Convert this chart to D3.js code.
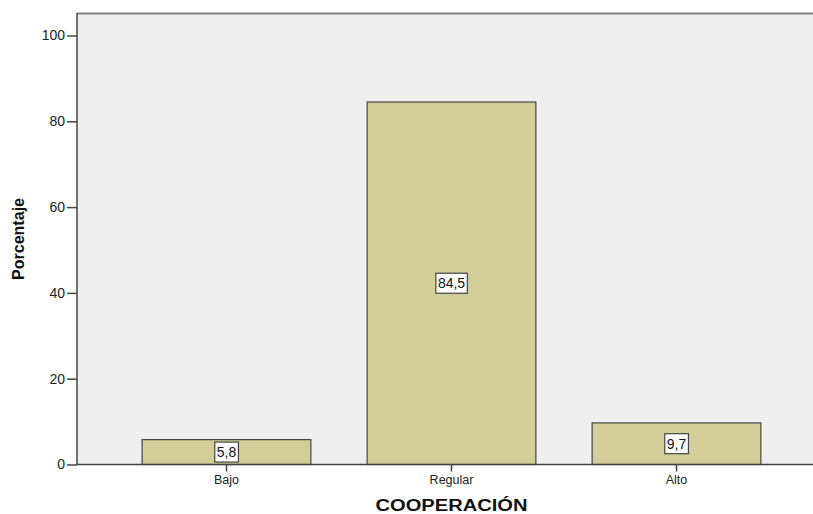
<!DOCTYPE html>
<html>
<head>
<meta charset="utf-8">
<script src="https://cdn.jsdelivr.net/npm/d3@7"></script>
<style>
	body { margin: 0; background: #fff; }
	svg { display: block; font-family: "Liberation Sans", Arial, sans-serif; }
</style>
</head>
<body>
<div id="chart"></div>
<script>
// data
var categories = ["Bajo", "Regular", "Alto"];
var values = [5.8, 84.5, 9.7];
var valueLabels = ["5,8", "84,5", "9,7"];
var yTicks = [0, 20, 40, 60, 80, 100];

var width = 813, height = 514;
var margin = {top: 13, right: -13, bottom: 49.5, left: 77};
var innerW = width - margin.left - margin.right;
var innerH = height - margin.top - margin.bottom;

var svg = d3.select("#chart").append("svg")
	.attr("width", width)
	.attr("height", height);

var g = svg.append("g")
	.attr("transform", "translate(" + margin.left + "," + margin.top + ")");

// scales
var x = d3.scaleBand()
	.domain(categories)
	.range([37, innerW - 37])
	.paddingInner(0.25)
	.paddingOuter(0.125);

var y = d3.scaleLinear()
	.domain([0, 100])
	.range([innerH, 22.5]);

// plot background
g.append("rect")
	.attr("x", 0)
	.attr("y", 0)
	.attr("width", innerW)
	.attr("height", innerH)
	.attr("fill", "#efefef");

// top frame line
g.append("line")
	.attr("x1", 0).attr("x2", innerW)
	.attr("y1", 0.5).attr("y2", 0.5)
	.attr("stroke", "#808080")
	.attr("stroke-width", 2);

// bars
g.selectAll("rect.bar")
	.data(values)
	.enter().append("rect")
	.attr("class", "bar")
	.attr("x", function(d, i) { return x(categories[i]); })
	.attr("y", function(d) { return y(d); })
	.attr("width", x.bandwidth())
	.attr("height", function(d) { return innerH - y(d); })
	.attr("fill", "#d3ce97")
	.attr("stroke", "#454545")
	.attr("stroke-width", 1.2);

// value labels
var lab = g.selectAll("g.vlabel")
	.data(values)
	.enter().append("g")
	.attr("class", "vlabel")
	.attr("transform", function(d, i) {
		var cy = (y(d) + innerH) / 2;
		if (cy > innerH - 11) cy = innerH - 11;
		return "translate(" + (x(categories[i]) + x.bandwidth() / 2) + "," + cy + ")";
	});

lab.append("text")
	.attr("text-anchor", "middle")
	.attr("dy", "0.36em")
	.attr("font-size", 14)
	.attr("fill", "#111")
	.text(function(d, i) { return valueLabels[i]; });

lab.each(function() {
	var t = d3.select(this).select("text");
	var bb = t.node().getBBox();
	d3.select(this).insert("rect", "text")
		.attr("x", bb.x - 2)
		.attr("y", -10)
		.attr("width", bb.width + 4)
		.attr("height", 20)
		.attr("fill", "#fff")
		.attr("stroke", "#444")
		.attr("stroke-width", 1.2);
});

// Y axis
var yAxis = g.append("g")
	.attr("class", "axis")
	.call(d3.axisLeft(y).tickValues(yTicks).tickSize(10).tickPadding(2));
yAxis.select(".domain").attr("stroke", "#444").attr("stroke-width", 1.5)
	.attr("d", "M0," + innerH + "V0");
yAxis.selectAll(".tick line").attr("stroke", "#444").attr("stroke-width", 1.5);
yAxis.selectAll("text").attr("font-size", 14).attr("fill", "#222")
	.attr("font-family", "Liberation Sans, Arial, sans-serif");

// X axis
var xAxis = g.append("g")
	.attr("class", "axis")
	.attr("transform", "translate(0," + innerH + ")")
	.call(d3.axisBottom(x).tickSize(7).tickPadding(4));
xAxis.select(".domain").attr("stroke", "#444").attr("stroke-width", 1.5)
	.attr("d", "M0,0H" + innerW);
xAxis.selectAll(".tick line").attr("stroke", "#444").attr("stroke-width", 1.5);
xAxis.selectAll("text").attr("font-size", 12.5).attr("fill", "#222")
	.attr("font-family", "Liberation Sans, Arial, sans-serif");

// axis titles
svg.append("text")
	.attr("x", margin.left + x("Regular") + x.bandwidth() / 2)
	.attr("y", 511)
	.attr("text-anchor", "middle")
	.attr("font-size", 16)
	.attr("font-weight", "bold")
	.attr("fill", "#111")
	.attr("textLength", 152)
	.attr("lengthAdjust", "spacingAndGlyphs")
	.text("COOPERACIÓN");

svg.append("text")
	.attr("transform", "translate(24,239) rotate(-90)")
	.attr("text-anchor", "middle")
	.attr("font-size", 16)
	.attr("font-weight", "bold")
	.attr("fill", "#111")
	.attr("textLength", 82)
	.attr("lengthAdjust", "spacingAndGlyphs")
	.text("Porcentaje");
</script>
</body>
</html>
